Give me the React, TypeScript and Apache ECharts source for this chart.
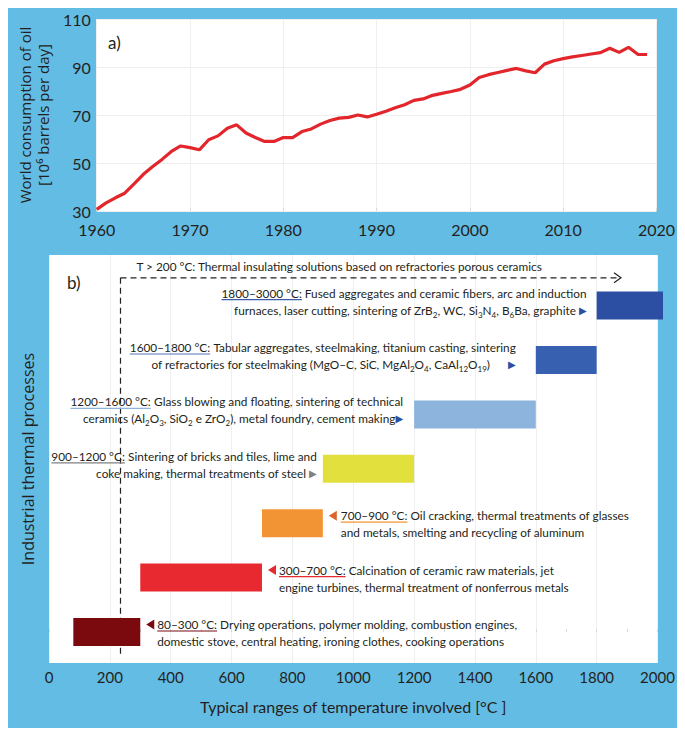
import React, { useEffect, useRef } from 'react';
import * as echarts from 'echarts';

// ---------- Panel a) data ----------
const years = [
  1960, 1961, 1962, 1963, 1964, 1965, 1966, 1967, 1968, 1969,
  1970, 1971, 1972, 1973, 1974, 1975, 1976, 1977, 1978, 1979,
  1980, 1981, 1982, 1983, 1984, 1985, 1986, 1987, 1988, 1989,
  1990, 1991, 1992, 1993, 1994, 1995, 1996, 1997, 1998, 1999,
  2000, 2001, 2002, 2003, 2004, 2005, 2006, 2007, 2008, 2009,
  2010, 2011, 2012, 2013, 2014, 2015, 2016, 2017, 2018, 2019,
];
const oilConsumption = [
  30.7, 33.4, 35.5, 37.4, 41.3, 45.3, 48.5, 51.5, 54.8, 57.1,
  56.4, 55.5, 59.7, 61.3, 64.5, 65.9, 62.5, 60.6, 59.0, 59.0,
  60.6, 60.6, 63.1, 64.2, 66.2, 67.7, 68.7, 69.0, 70.0, 69.2,
  70.3, 71.6, 73.0, 74.3, 76.1, 76.7, 78.2, 79.0, 79.8, 80.7,
  82.5, 85.6, 86.8, 87.7, 88.6, 89.4, 88.4, 87.6, 91.2, 92.6,
  93.5, 94.2, 94.8, 95.4, 96.0, 97.8, 96.1, 98.2, 95.3, 95.2,
];

// ---------- Panel b) data ----------
const processRows = [0, 1, 2, 3, 4, 5, 6];
const tempLow = [80, 300, 700, 900, 1200, 1600, 1800];
const tempHigh = [300, 700, 900, 1200, 1600, 1800, 3000];
const rangeLabels = [
  '80–300 °C:', '300–700 °C:', '700–900 °C:', '900–1200 °C:',
  '1200–1600 °C:', '1600–1800 °C:', '1800–3000 °C:',
];
const descLine1 = [
  ' Drying operations, polymer molding, combustion engines,',
  ' Calcination of ceramic raw materials, jet',
  ' Oil cracking, thermal treatments of glasses',
  ' Sintering of bricks and tiles, lime and',
  ' Glass blowing and floating, sintering of technical',
  ' Tabular aggregates, steelmaking, titanium casting, sintering',
  ' Fused aggregates and ceramic fibers, arc and induction',
];
const descLine2 = [
  'domestic stove, central heating, ironing clothes, cooking operations',
  'engine turbines, thermal treatment of nonferrous metals',
  'and metals, smelting and recycling of aluminum',
  'coke making, thermal treatments of steel',
  'ceramics (Al{s|2}O{s|3}, SiO{s|2} e ZrO{s|2}), metal foundry, cement making',
  'of refractories for steelmaking (MgO–C, SiC, MgAl{s|2}O{s|4}, CaAl{s|12}O{s|19})',
  'furnaces, laser cutting, sintering of ZrB{s|2}, WC, Si{s|3}N{s|4}, B{s|6}Ba, graphite',
];
const insulationTemp = 235;
const insulationEndTemp = 1880;
const insulationLabel = 'T > 200 °C: Thermal insulating solutions based on refractories porous ceramics';

// ---------- styles ----------
const BG = '#63BCE4';
const TEXT = '#231F20';
const FF = 'Lato';
const FS = 11.8;
const barColors = ['#7A0A0E', '#E82A30', '#F29434', '#E2E03D', '#8DB4DD', '#3761B0', '#2C4FA3'];
const underlineColors = ['#7A0A0E', '#E52A30', '#F29434', '#808080', '#8DB4DD', '#5574B8', '#3E5BA9'];
const triColors = ['#7A0A0E', '#E52A30', '#DC6629', '#808080', '#2C4FA3', '#2C4FA3', '#2C4FA3'];
const labelSide = ['right', 'right', 'right', 'left', 'left', 'left', 'left'];
const labelGap = [17, 17, 18, 6, 11, 20, 10];
const triSuffix = ['', '', '', ' {t|▶}', '{t|▶}', '      {t|▶}', ' {t|▶}'];

let measureCtx: CanvasRenderingContext2D | null = null;
function textWidth(s: string) {
  if (!measureCtx) measureCtx = document.createElement('canvas').getContext('2d');
  measureCtx!.font = `${FS}px ${FF}`;
  return measureCtx!.measureText(s).width;
}

function renderProcess(params: any, api: any) {
  const i = params.dataIndex;
  const lo = api.value(0);
  const hi = api.value(1);
  const row = api.value(2);
  const a = api.coord([lo, row]);
  const b = api.coord([hi, row]);
  const cs = params.coordSys;
  const xr = Math.min(b[0], cs.x + cs.width + 5.5);
  const cy = a[1];
  const H = 28;
  const children: any[] = [
    { type: 'rect', shape: { x: a[0], y: cy - H / 2, width: xr - a[0], height: H }, style: { fill: barColors[i] } },
  ];
  const rich = {
    u: { fontSize: FS, fontFamily: FF, fill: TEXT, lineHeight: 17 },
    n: { fontSize: FS, fontFamily: FF, fill: TEXT, lineHeight: 17 },
    s: { fontSize: 8, fontFamily: FF, fill: TEXT, verticalAlign: 'bottom', lineHeight: 11 },
    t: { fontSize: 10, fontFamily: 'DejaVu Sans', fill: triColors[i], lineHeight: 17 },
  };
  const w1 = textWidth(rangeLabels[i] + descLine1[i]);
  const wr = textWidth(rangeLabels[i]);
  let tx: number;
  let top: number;
  let x0: number;
  if (labelSide[i] === 'right') {
    top = cy - 16;
    const ty = top + 8.5;
    children.push({
      type: 'polygon',
      shape: { points: [[xr + 6, ty], [xr + 14, ty - 5], [xr + 14, ty + 5]] },
      style: { fill: triColors[i] },
    });
    tx = xr + labelGap[i];
    x0 = tx;
  } else {
    top = cy - 21;
    tx = a[0] - labelGap[i];
    x0 = tx - w1;
  }
  children.push({
    type: 'text',
    z2: 10,
    style: {
      text: `{u|${rangeLabels[i]}}{n|${descLine1[i]}}\n${descLine2[i]}${triSuffix[i]}`,
      x: tx,
      y: top,
      align: labelSide[i] === 'right' ? 'left' : 'right',
      verticalAlign: 'top',
      fontSize: FS,
      fontFamily: FF,
      fill: TEXT,
      lineHeight: 17,
      rich,
    },
  });
  children.push({
    type: 'line',
    z2: 11,
    shape: { x1: x0, y1: top + 15, x2: x0 + wr, y2: top + 15 },
    style: { stroke: underlineColors[i], lineWidth: 1.2 },
  });
  return { type: 'group', children };
}

function renderInsulation(params: any, api: any) {
  const x = api.value(0);
  const yb = api.value(1);
  const yt = api.value(2);
  const xe = api.value(3);
  const pb = api.coord([x, yb]);
  const pt = api.coord([x, yt]);
  const pe = api.coord([xe, yt]);
  const ls = { stroke: '#222', lineWidth: 1.2, lineDash: [6, 4] };
  return {
    type: 'group',
    children: [
      { type: 'line', shape: { x1: pt[0], y1: pt[1], x2: pb[0], y2: pb[1] }, style: ls },
      { type: 'line', shape: { x1: pt[0], y1: pt[1], x2: pe[0] - 1, y2: pe[1] }, style: ls },
      {
        type: 'polyline',
        shape: { points: [[pe[0] - 7, pe[1] - 5], [pe[0], pe[1]], [pe[0] - 7, pe[1] + 5]] },
        style: { stroke: '#222', lineWidth: 1.2, fill: null },
      },
      {
        type: 'text',
        style: { text: insulationLabel, x: pt[0] + 16, y: pt[1] - 11, verticalAlign: 'middle', fontSize: FS, fontFamily: FF, fill: TEXT },
      },
    ],
  };
}

const plain = (v: number) => String(v);

export default function App() {
  const ref = useRef<HTMLDivElement>(null);
  useEffect(() => {
    if (!ref.current) return;
    const chart = echarts.init(ref.current, null, { renderer: 'svg' });
    const splitStyle = { lineStyle: { color: '#efefef', width: 1 } };
    const option: any = {
      animation: false,
      backgroundColor: BG,
      textStyle: { fontFamily: FF },
      grid: [
        { left: 85, right: 21, top: 11, height: 192, show: true, backgroundColor: '#fff', borderWidth: 0 },
        { left: 41, right: 20.5, top: 247, height: 408, show: true, backgroundColor: '#fff', borderWidth: 0 },
      ],
      xAxis: [
        {
          gridIndex: 0, type: 'value', min: 1960, max: 2020, interval: 10,
          axisLine: { show: false },
          axisTick: { show: true, inside: true, length: 3, lineStyle: { color: '#d8d8d8' } },
          axisLabel: { fontSize: 16, color: TEXT, margin: 10, fontFamily: FF, formatter: plain },
          splitLine: { show: true, ...splitStyle },
        },
        {
          gridIndex: 1, type: 'value', min: 0, max: 2000, interval: 200,
          name: 'Typical ranges of temperature involved [°C ]',
          nameLocation: 'middle', nameGap: 35,
          nameTextStyle: { fontSize: 16, color: TEXT, fontFamily: FF },
          axisLine: { show: false },
          axisTick: { show: true, inside: true, length: 3, lineStyle: { color: '#d8d8d8' } },
          minorTick: { show: true, splitNumber: 2, length: 3, lineStyle: { color: '#d8d8d8' } },
          axisLabel: { fontSize: 15, color: TEXT, margin: 6, fontFamily: FF, formatter: plain },
          splitLine: { show: true, ...splitStyle },
        },
      ],
      yAxis: [
        {
          gridIndex: 0, type: 'value', min: 30, max: 110, interval: 20,
          name: 'World consumption of oil\n[10⁶ barrels per day]',
          nameLocation: 'middle', nameRotate: 90, nameGap: 29,
          nameTextStyle: { fontSize: 15, color: TEXT, fontFamily: 'Open Sans', lineHeight: 18 },
          axisLine: { show: false },
          axisTick: { show: false },
          axisLabel: { fontSize: 16, color: TEXT, margin: 6, fontFamily: FF, formatter: plain },
          splitLine: { show: true, ...splitStyle },
        },
        {
          gridIndex: 1, type: 'value', min: -0.57, max: 6.93,
          name: 'Industrial thermal processes',
          nameLocation: 'middle', nameRotate: 90, nameGap: 13,
          nameTextStyle: { fontSize: 16, color: TEXT, fontFamily: 'Open Sans' },
          axisLine: { show: false },
          axisTick: { show: false },
          axisLabel: { show: false },
          splitLine: { show: false },
        },
      ],
      graphic: [
        { type: 'text', left: 100, top: 26, style: { text: 'a)', fontSize: 17, fontFamily: FF, fill: TEXT } },
        { type: 'text', left: 59, top: 266, style: { text: 'b)', fontSize: 17, fontFamily: FF, fill: TEXT } },
      ],
      series: [
        {
          type: 'line', xAxisIndex: 0, yAxisIndex: 0,
          data: years.map((y, i) => [y, oilConsumption[i]]),
          symbol: 'none',
          lineStyle: { color: '#E2262C', width: 3.2 },
        },
        {
          type: 'custom', xAxisIndex: 1, yAxisIndex: 1, clip: false, z: 1,
          renderItem: renderInsulation,
          data: [[insulationTemp, -0.46, 6.51, insulationEndTemp]],
        },
        {
          type: 'custom', xAxisIndex: 1, yAxisIndex: 1, clip: false, z: 2,
          renderItem: renderProcess,
          data: processRows.map((r, i) => [tempLow[i], tempHigh[i], r]),
        },
      ],
    };
    chart.setOption(option);
    return () => chart.dispose();
  }, []);
  return <div ref={ref} style={{ width: 670, height: 720 }} />;
}
